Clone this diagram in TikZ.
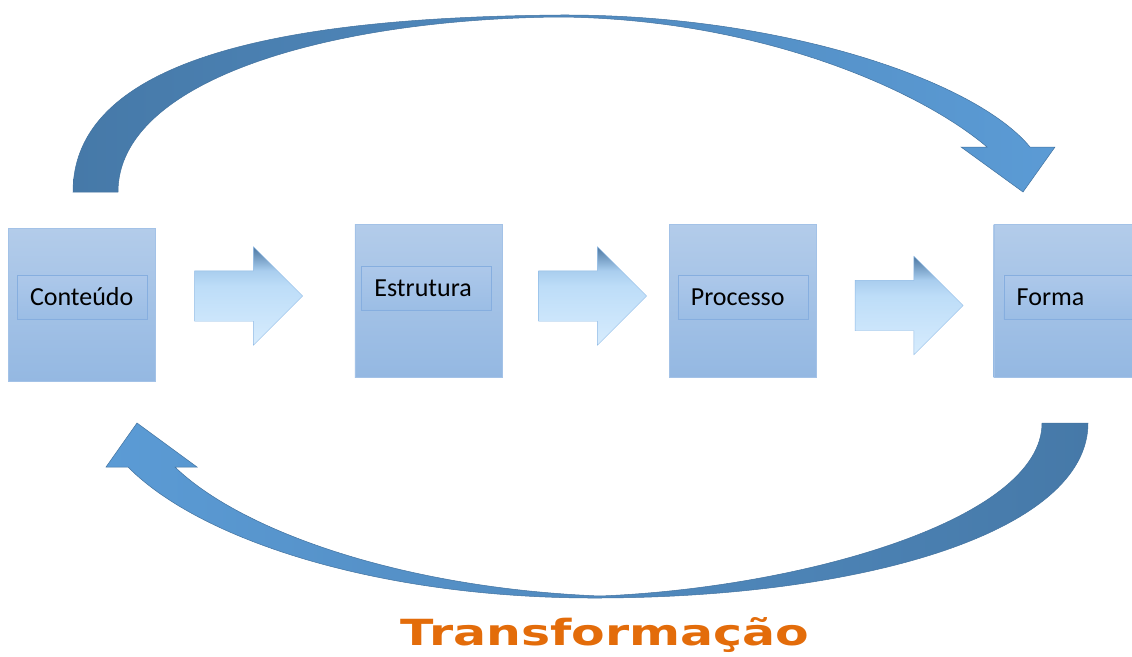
\documentclass[tikz,border=0pt]{standalone}
\usepackage{fontspec}
\setmainfont{Carlito}
\newfontfamily\titlefont{DejaVu Sans}
\usetikzlibrary{positioning,shapes.arrows}
\definecolor{boxTop}{HTML}{B3CCEA}
\definecolor{boxBot}{HTML}{94B8E2}
\definecolor{boxLine}{HTML}{A3C2E7}
\definecolor{lblTop}{HTML}{ADC8EA}
\definecolor{lblBot}{HTML}{9BBDE5}
\definecolor{lblLine}{HTML}{86AEDF}
\definecolor{arrLight}{HTML}{D7ECFD}
\definecolor{arrMid}{HTML}{BDDDF8}
\definecolor{arrMidd}{HTML}{A9CDEE}
\definecolor{arrDark}{HTML}{4B77A2}
\definecolor{arrLine}{HTML}{8DB9E5}
\definecolor{arcDark}{HTML}{4679A8}
\definecolor{arcLight}{HTML}{5B9BD5}
\definecolor{arcLine}{HTML}{42729F}
\definecolor{titleOrange}{HTML}{E36C0A}
\pgfdeclareverticalshading{blockfill}{100bp}{color(0bp)=(arrLight); color(25bp)=(arrLight); color(55bp)=(arrMid); color(63bp)=(arrMidd); color(75bp)=(arrDark); color(100bp)=(arrDark)}
\tikzset{%
    blk/.style={rectangle,draw=boxLine,top color=boxTop,bottom color=boxBot,minimum width=147pt,minimum height=153pt,inner sep=0pt},
    lbl/.style={rectangle,draw=lblLine,top color=lblTop,bottom color=lblBot,text width=104pt,inner xsep=13pt,inner ysep=0pt,
        minimum height=44pt,align=left,text height=16.5pt,text depth=0pt,font=\fontsize{26}{30}\selectfont},
    blockarr/.style={single arrow,draw=arrLine,shading=blockfill,minimum height=108pt,
        single arrow head extend=24pt,single arrow tip angle=90,inner xsep=0pt,inner ysep=25pt},
    turn/.style={draw=arcLine,line width=.5pt},
    ttl/.style={font=\titlefont\bfseries\fontsize{36}{40}\selectfont,xscale=1.36,anchor=base}
}

\begin{document}
\begin{tikzpicture}[x=1pt,y=-1pt]
            \useasboundingbox (0,0) rectangle (1132,656);
            \node [blk] (blk-1) at (82,305) {};
            \node [blk,right=199pt of blk-1,yshift=4.5pt] (blk-2) {};
            \node [blk,right=167pt of blk-2] (blk-3) {};
            \node [blk,right=177pt of blk-3] (blk-4) {};
            \node [lbl] (lbl-1) at ([yshift=8pt]blk-1.center) {Conteúdo};
            \node [lbl] (lbl-2) at ([xshift=-2pt,yshift=12.5pt]blk-2.center) {Estrutura};
            \node [lbl] (lbl-3) at ([yshift=3.5pt]blk-3.center) {Processo};
            \node [lbl] (lbl-4) at ([xshift=1.5pt,yshift=3.5pt]blk-4.center) {Forma};
            %%%%%
            \node [blockarr] (arr-1) at (236,296) {};
            \node [blockarr] (arr-2) at (580,296) {};
            \node [blockarr] (arr-3) at (896.5,305.5) {};
            %%%%%
            \path [turn,left color=arcDark,right color=arcLight]
            (73,192) .. controls (73,45) and (330,17) .. (560,15)
            .. controls (780,14) and (975,80) .. (1030,147)
            -- (1055,147) -- (1023,192) -- (961,147) -- (987,147)
            .. controls (920,90) and (760,19) .. (560,17)
            .. controls (330,19) and (118,80) .. (118,192) -- cycle;
            \path [turn,left color=arcLight,right color=arcDark]
            (1088,423) .. controls (1088,530) and (870,597) .. (600,598)
            .. controls (380,599) and (200,540) .. (128,467)
            -- (106,467) -- (137,423) -- (197,467) -- (175,467)
            .. controls (240,530) and (400,588) .. (600,596)
            .. controls (800,588) and (1042,520) .. (1042,423) -- cycle;
            %%%%%
            \node [ttl,text=titleOrange] (ttl) at (605,645) {Transformação};
\end{tikzpicture}
\end{document}
